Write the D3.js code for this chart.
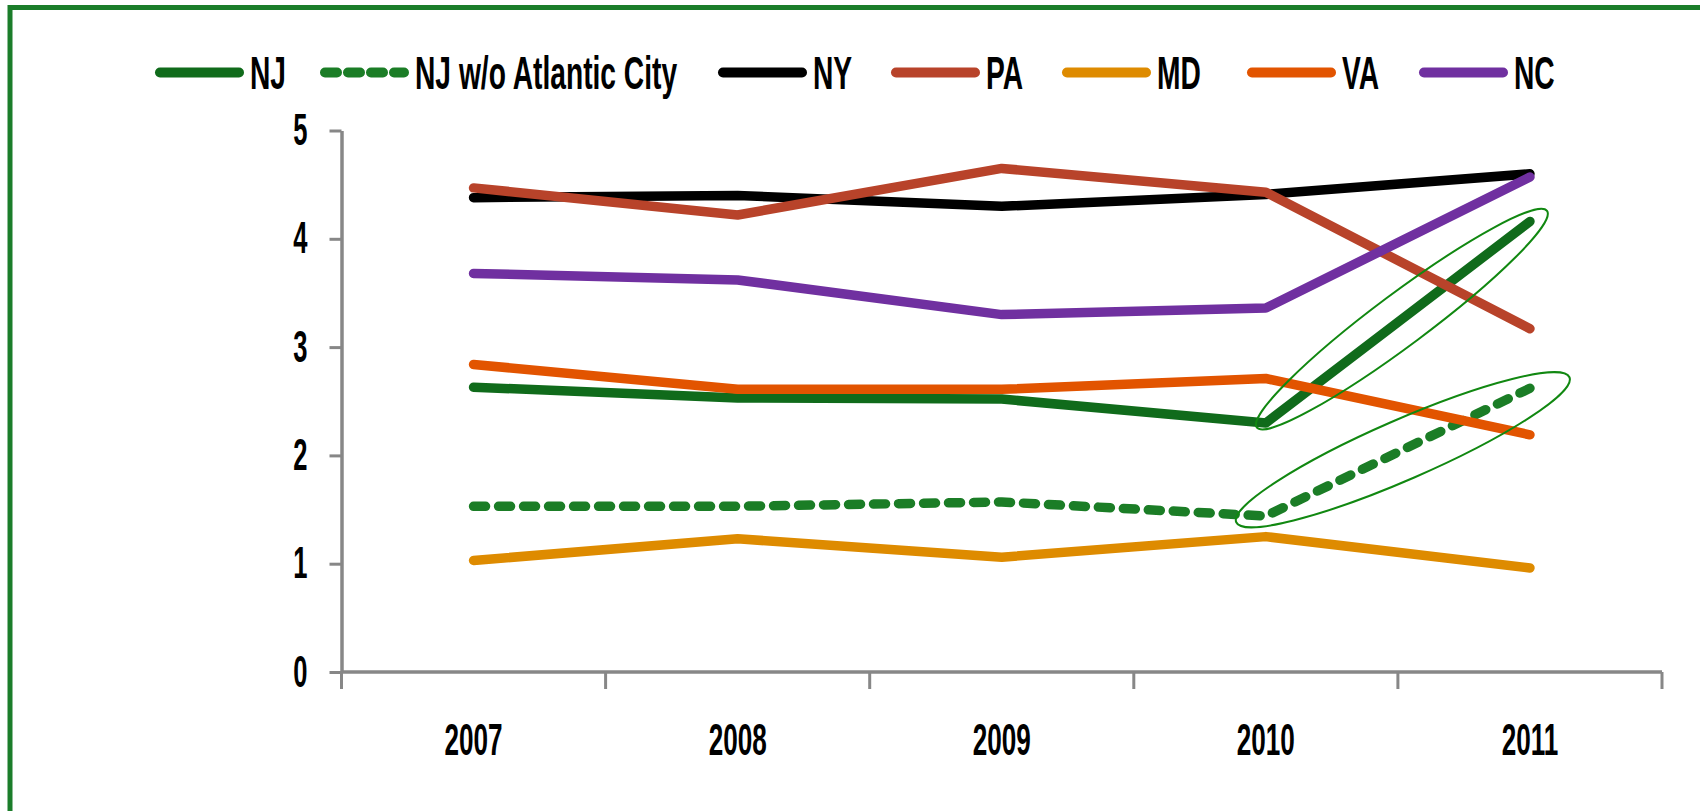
<!DOCTYPE html>
<html>
<head>
<meta charset="utf-8">
<script src="https://cdn.jsdelivr.net/npm/d3@7"></script>
<style>
  body { margin: 0; background: #fff; }
  svg { display: block; }
  text { font-family: "Liberation Sans", Arial, sans-serif; font-weight: bold; fill: #000; }
</style>
</head>
<body>
<svg id="chart" width="1700" height="811"></svg>
<script>
// ---- data ----
const years = ["2007", "2008", "2009", "2010", "2011"];
const seriesNames = ["NJ", "NJ w/o Atlantic City", "NY", "PA", "MD", "VA", "NC"];
const njValues     = [2.63, 2.53, 2.52, 2.30, 4.16];
const njNoACValues = [1.53, 1.53, 1.57, 1.44, 2.62];
const nyValues     = [4.38, 4.40, 4.30, 4.41, 4.60];
const paValues     = [4.47, 4.22, 4.65, 4.43, 3.17];
const mdValues     = [1.03, 1.23, 1.06, 1.25, 0.96];
const vaValues     = [2.84, 2.61, 2.61, 2.71, 2.19];
const ncValues     = [3.68, 3.62, 3.30, 3.36, 4.57];
const yTicks = [0, 1, 2, 3, 4, 5];

// ---- styling ----
const colors = ["#106b1b", "#1b7d26", "#000000", "#b8432a", "#de8b00", "#e25400", "#7030a0"];
const dashed = [false, true, false, false, false, false, false];
const legendLeft = [155, 320, 718, 891, 1062, 1247, 1419];   // legend item left edges
const allValues = [njValues, njNoACValues, nyValues, paValues, mdValues, vaValues, ncValues];
const series = seriesNames.map((name, i) => ({
  name, color: colors[i], dashed: dashed[i],
  values: years.map((yr, j) => ({ year: yr, v: allValues[i][j] }))
}));

const SX = 0.58;            // horizontal condensing of the bold face
const axisColor = "#878787";
const LINE_W = 9.5;
const DASH = "12 13";

const svg = d3.select("#chart");

// frame
svg.append("rect")
  .attr("x", 10).attr("y", 7.5).attr("width", 1740).attr("height", 860)
  .attr("fill", "none").attr("stroke", "#1b7d2a").attr("stroke-width", 5);

// scales
const x = d3.scaleBand().domain(years).range([341.5, 1662]);
const y = d3.scaleLinear().domain([0, 5]).range([672, 130.5]);
const bw = x.bandwidth();
const cxOf = d => x(d) + bw / 2;

function condense(sel) {
  sel.each(function () {
    const t = d3.select(this);
    const tx = +t.attr("x") || 0;
    t.attr("x", 0).attr("transform", `translate(${tx},0) scale(${SX},1)`);
  });
}

// y axis
const yAxis = svg.append("g")
  .attr("transform", `translate(${x.range()[0]},0)`)
  .call(d3.axisLeft(y).tickValues(yTicks).tickFormat(d3.format("d"))
    .tickSize(12).tickSizeOuter(0).tickPadding(22));
yAxis.select(".domain").attr("stroke", axisColor).attr("stroke-width", 3.5);
yAxis.selectAll(".tick line").attr("stroke", axisColor).attr("stroke-width", 3);
yAxis.selectAll(".tick text").attr("font-size", 44).attr("font-family", null).call(condense);

// x axis
const xAxis = svg.append("g").attr("transform", `translate(0,${y(0)})`);
xAxis.append("line")
  .attr("x1", x.range()[0]).attr("x2", x.range()[1])
  .attr("stroke", axisColor).attr("stroke-width", 3.5);
xAxis.selectAll("line.tick")
  .data(years.map(d => x(d)).concat([x.range()[1]]))
  .join("line").attr("class", "tick")
  .attr("x1", d => d).attr("x2", d => d).attr("y1", 0).attr("y2", 17)
  .attr("stroke", axisColor).attr("stroke-width", 3);
xAxis.selectAll("text")
  .data(years).join("text")
  .attr("text-anchor", "middle").attr("font-size", 45)
  .attr("transform", d => `translate(${cxOf(d)},83) scale(${SX},1)`)
  .text(d => d);

// lines
const line = d3.line().x(d => cxOf(d.year)).y(d => y(d.v));
svg.append("g").selectAll("path")
  .data(series).join("path")
  .attr("d", d => line(d.values))
  .attr("fill", "none")
  .attr("stroke", d => d.color)
  .attr("stroke-width", LINE_W)
  .attr("stroke-linecap", "round")
  .attr("stroke-linejoin", "round")
  .attr("stroke-dasharray", d => d.dashed ? DASH : null);

// rings around the 2010-2011 NJ jumps
function ring(vals, padLong, shift, rMinor, rotAdj) {
  const p0 = [cxOf(years[3]), y(vals[3])], p1 = [cxOf(years[4]), y(vals[4])];
  const len = Math.hypot(p1[0] - p0[0], p1[1] - p0[1]);
  const a = Math.atan2(p1[1] - p0[1], p1[0] - p0[0]);
  const cx = (p0[0] + p1[0]) / 2 + shift * Math.cos(a);
  const cy = (p0[1] + p1[1]) / 2 + shift * Math.sin(a);
  svg.append("ellipse")
    .attr("rx", len / 2 + padLong).attr("ry", rMinor)
    .attr("transform", `translate(${cx},${cy}) rotate(${a * 180 / Math.PI + rotAdj})`)
    .attr("fill", "none").attr("stroke", "#118811").attr("stroke-width", 2);
}
ring(njValues, 15, 5, 26, 0.6);
ring(njNoACValues, 35, 5.5, 30, 2.3);

// legend
const legend = svg.append("g").attr("transform", "translate(0,72.5)");
const items = legend.selectAll("g.item")
  .data(series).join("g").attr("class", "item")
  .attr("transform", (d, i) => `translate(${legendLeft[i]},0)`);
items.append("line")
  .attr("x1", 5).attr("x2", 84)
  .attr("stroke", d => d.color).attr("stroke-width", 10)
  .attr("stroke-linecap", "round")
  .attr("stroke-dasharray", d => d.dashed ? "12 11" : null);
items.append("text")
  .attr("font-size", 47)
  .attr("transform", `translate(95,16) scale(0.6,1)`)
  .text(d => d.name);
</script>
</body>
</html>
